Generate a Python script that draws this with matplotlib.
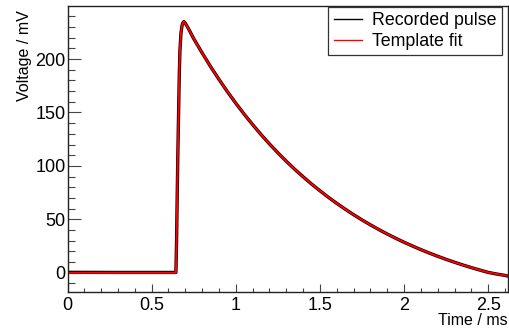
import matplotlib
matplotlib.use('Agg')
import matplotlib.pyplot as plt
from matplotlib.ticker import MultipleLocator

plt.rcParams['font.family'] = ['Liberation Sans', 'DejaVu Sans']

# time axis (ms) and voltages (mV)
time_ms = [0.0, 0.3, 0.644, 0.648, 0.652, 0.656, 0.660, 0.664, 0.668, 0.674, 0.680, 0.686, 0.691,
           0.70, 0.72, 0.75, 0.80, 0.85, 0.90, 0.95, 1.00, 1.05, 1.10, 1.15, 1.20, 1.25, 1.30,
           1.35, 1.40, 1.45, 1.50, 1.55, 1.60, 1.65, 1.70, 1.75, 1.80, 1.85, 1.90, 1.95, 2.00,
           2.05, 2.10, 2.15, 2.20, 2.25, 2.30, 2.35, 2.40, 2.45, 2.50, 2.55, 2.60, 2.62]
recorded_mv = [0.4, 0.3, 0.3, 30, 75, 115, 150, 185, 208, 224, 231, 234, 235,
               233.5, 228, 219, 205.7, 192.9, 180.9, 169.4, 158.6, 148.3, 138.6, 129.3, 120.5, 112.2, 104.3,
               96.8, 89.8, 83.0, 76.7, 70.6, 64.9, 59.5, 54.3, 49.4, 44.8, 40.4, 36.2, 32.3, 28.5,
               25.0, 21.6, 18.4, 15.4, 12.5, 9.8, 7.2, 4.8, 2.5, 0.3, -1.2, -2.5, -3.2]
fit_mv = [0.0, 0.0, 0.0, 30, 75, 115, 150, 185, 208, 224, 231, 234, 235,
          233.5, 228, 219, 205.7, 192.9, 180.9, 169.4, 158.6, 148.3, 138.6, 129.3, 120.5, 112.2, 104.3,
          96.8, 89.8, 83.0, 76.7, 70.6, 64.9, 59.5, 54.3, 49.4, 44.8, 40.4, 36.2, 32.3, 28.5,
          25.0, 21.6, 18.4, 15.4, 12.5, 9.8, 7.2, 4.8, 2.5, 0.3, -1.2, -2.5, -2.8]

fig = plt.figure(figsize=(5.09, 3.31), dpi=100)
ax = fig.add_axes([67.5 / 509, 1 - 292 / 331, 440.5 / 509, 286 / 331])

ax.plot(time_ms, recorded_mv, color='black', linewidth=2.4, label='Recorded pulse')
ax.plot(time_ms, fit_mv, color='#ff0000', linewidth=1.4, label='Template fit')

ax.set_xlim(0, 2.617)
ax.set_ylim(-18, 249.6)

ax.xaxis.set_major_locator(MultipleLocator(0.5))
ax.xaxis.set_minor_locator(MultipleLocator(0.1))
ax.yaxis.set_major_locator(MultipleLocator(50))
ax.yaxis.set_minor_locator(MultipleLocator(10))
ax.xaxis.set_major_formatter(plt.FuncFormatter(lambda v, p: f'{v:g}'))

ax.tick_params(axis='x', which='major', direction='in', length=6, width=0.8, color='#444444',
               labelsize=13, pad=3.5)
ax.tick_params(axis='x', which='minor', direction='in', length=3, width=0.8, color='#444444')
ax.tick_params(axis='y', which='major', direction='in', length=9.5, width=0.8, color='#444444',
               labelsize=13, pad=1.5)
ax.tick_params(axis='y', which='minor', direction='in', length=5, width=0.8, color='#444444')
for s in ax.spines.values():
    s.set_linewidth(1.0)
    s.set_color('#222222')

ax.set_xlabel('Time / ms', fontsize=11.5, ha='right', va='top')
ax.xaxis.set_label_coords(1.0, -0.072)
ax.set_ylabel('Voltage / mV', fontsize=11.5, ha='right')
ax.yaxis.set_label_coords(-0.08, 0.986)

leg = ax.legend(loc='upper right', bbox_to_anchor=(0.986, 0.9965), borderaxespad=0,
                fontsize=12.8, fancybox=False, framealpha=1, edgecolor='#333333',
                handlelength=1.6, handletextpad=0.55, borderpad=0.3, labelspacing=0.2)
leg.get_frame().set_linewidth(0.9)
for h in leg.get_lines():
    h.set_linewidth(1.0)

fig.savefig('out.png', dpi=100)
